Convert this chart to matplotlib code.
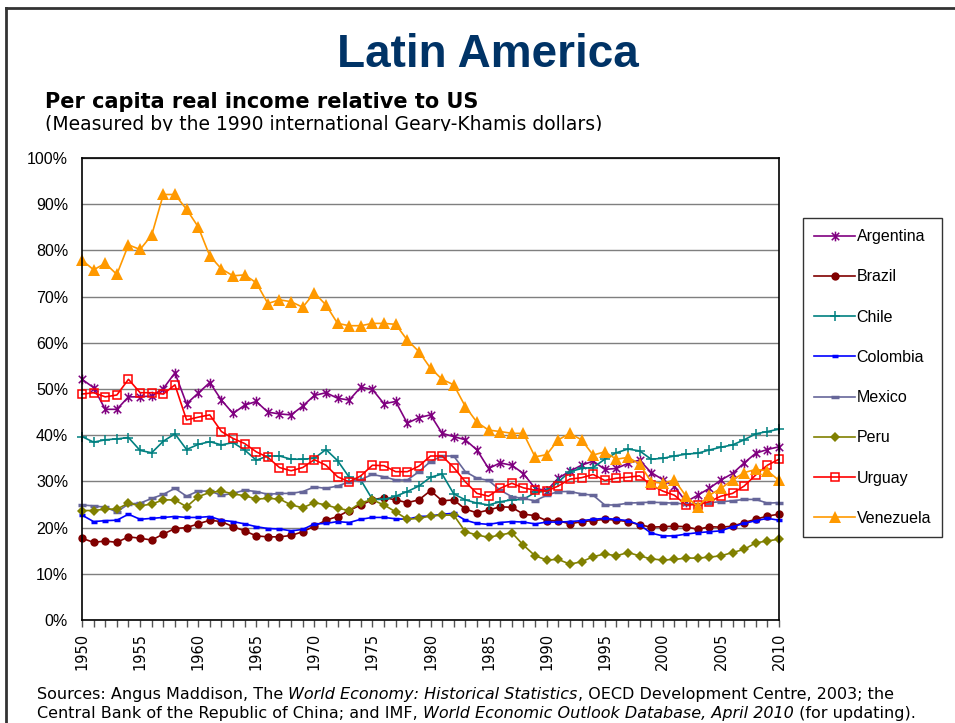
import numpy as np
import matplotlib
matplotlib.use("Agg")
import matplotlib.pyplot as plt
from matplotlib.path import Path
from matplotlib.lines import Line2D
from matplotlib.transforms import Bbox
from matplotlib.ticker import MultipleLocator, FuncFormatter

# Years on the category axis
years = list(range(1950, 2011))

# Per capita real income relative to US (%)
argentina = [52.1, 50.3, 45.6, 45.6, 48.3, 48.3, 48.5, 50.1, 53.5, 46.8,
             49.1, 51.4, 47.6, 44.7, 46.5, 47.3, 45.0, 44.6, 44.4, 46.3,
             48.6, 49.2, 48.0, 47.6, 50.4, 49.9, 46.8, 47.3, 42.6, 43.8,
             44.4, 40.4, 39.7, 39.0, 36.8, 32.8, 34.0, 33.5, 31.7, 28.5,
             28.0, 30.7, 32.2, 33.5, 34.4, 32.6, 32.8, 33.9, 34.6, 31.9,
             30.4, 28.9, 25.6, 27.0, 28.5, 30.3, 31.7, 34.0, 36.1, 36.9, 37.5]
brazil = [17.7, 16.8, 17.1, 16.8, 18.0, 17.7, 17.3, 18.6, 19.8, 20.0,
          20.8, 21.6, 21.3, 20.2, 19.3, 18.2, 18.0, 18.0, 18.3, 19.1,
          20.3, 21.6, 22.4, 23.7, 24.9, 26.0, 26.5, 26.0, 25.4, 26.0,
          28.0, 25.8, 26.0, 24.0, 23.2, 23.8, 24.5, 24.4, 22.9, 22.6,
          21.5, 21.5, 20.8, 21.3, 21.5, 21.8, 21.6, 21.3, 20.6, 20.1,
          20.2, 20.3, 20.2, 19.6, 20.2, 20.1, 20.3, 21.1, 21.8, 22.5, 22.9]
chile = [39.7, 38.5, 39.0, 39.2, 39.5, 36.7, 36.2, 38.7, 40.3, 36.9,
         38.0, 38.6, 37.9, 38.4, 36.8, 34.6, 35.5, 35.5, 34.8, 34.8,
         35.0, 36.9, 34.5, 30.9, 30.3, 26.1, 26.1, 26.8, 27.8, 29.0,
         30.9, 31.6, 27.3, 26.0, 25.3, 24.9, 25.6, 26.0, 26.1, 27.6,
         27.9, 29.9, 32.1, 32.8, 33.0, 34.8, 36.2, 37.0, 36.6, 34.8,
         35.0, 35.5, 35.9, 36.1, 36.8, 37.4, 37.9, 39.0, 40.3, 40.8, 41.3]
colombia = [22.7, 21.3, 21.5, 21.6, 22.9, 21.8, 22.0, 22.2, 22.4, 22.2,
            22.2, 22.4, 21.6, 21.3, 20.8, 20.2, 19.8, 19.7, 19.3, 19.6,
            20.8, 20.9, 21.3, 21.1, 21.8, 22.2, 22.2, 21.9, 21.8, 22.4,
            22.5, 22.9, 23.1, 21.6, 20.9, 20.7, 21.1, 21.3, 21.2, 20.8,
            21.2, 21.2, 21.3, 21.5, 21.8, 22.0, 21.8, 21.5, 20.6, 18.8,
            18.2, 18.2, 18.6, 18.9, 19.1, 19.3, 20.2, 20.9, 21.5, 22.0, 21.6]
mexico = [24.9, 24.7, 24.4, 23.4, 25.1, 25.3, 26.3, 27.2, 28.5, 26.8,
          27.9, 27.9, 27.0, 27.4, 28.1, 27.8, 27.2, 27.4, 27.4, 27.8,
          28.8, 28.5, 29.0, 29.9, 30.4, 31.5, 31.0, 30.3, 30.3, 32.1,
          34.3, 35.5, 35.5, 32.1, 30.7, 30.2, 28.1, 26.7, 26.3, 25.8,
          27.0, 27.8, 27.8, 27.3, 27.0, 24.9, 24.9, 25.3, 25.4, 25.5,
          25.4, 25.3, 25.1, 25.1, 25.4, 25.6, 25.8, 26.1, 26.1, 25.3, 25.4]
peru = [23.7, 23.7, 24.0, 24.0, 25.3, 24.7, 25.1, 26.0, 26.0, 24.5,
        26.7, 27.6, 27.9, 27.3, 26.9, 26.2, 26.3, 26.2, 24.9, 24.3,
        25.4, 24.9, 24.2, 23.7, 25.4, 26.0, 24.9, 23.4, 21.8, 22.0,
        22.5, 22.7, 22.7, 19.1, 18.4, 17.9, 18.4, 18.9, 16.2, 13.9,
        13.0, 13.1, 12.1, 12.6, 13.7, 14.3, 13.9, 14.6, 13.9, 13.2,
        13.0, 13.1, 13.4, 13.4, 13.6, 13.9, 14.6, 15.3, 16.7, 17.1, 17.5]
uruguay = [48.9, 49.2, 48.3, 48.7, 52.1, 49.2, 49.2, 48.9, 50.9, 43.3,
           43.9, 44.4, 40.8, 39.3, 38.2, 36.4, 35.2, 33.0, 32.3, 33.0,
           34.7, 33.5, 31.0, 29.9, 31.2, 33.5, 33.4, 32.1, 32.1, 33.3,
           35.5, 35.5, 33.0, 29.9, 27.4, 26.8, 28.5, 29.6, 28.6, 28.1,
           27.9, 29.0, 30.5, 30.8, 31.5, 30.2, 30.7, 30.9, 31.2, 29.2,
           27.9, 27.0, 24.9, 25.0, 25.6, 26.8, 27.4, 29.0, 31.4, 33.5, 34.8]
venezuela = [77.9, 75.8, 77.2, 74.8, 81.2, 80.2, 83.3, 92.1, 92.1, 88.9,
             85.1, 78.8, 76.0, 74.5, 74.7, 73.0, 68.5, 69.3, 68.9, 67.7,
             70.8, 68.2, 64.2, 63.7, 63.7, 64.2, 64.2, 64.0, 60.6, 58.1,
             54.5, 52.1, 50.9, 46.2, 42.8, 41.1, 40.8, 40.4, 40.4, 35.3,
             35.8, 39.0, 40.4, 39.0, 35.7, 36.4, 34.8, 35.2, 33.8, 29.9,
             29.6, 30.3, 26.8, 24.5, 27.0, 28.5, 30.3, 31.9, 32.6, 32.3, 30.2]

labels = ["Argentina", "Brazil", "Chile", "Colombia", "Mexico", "Peru", "Urguay", "Venezuela"]
series = [argentina, brazil, chile, colombia, mexico, peru, uruguay, venezuela]

# Excel-like star marker: an x with a vertical bar through it
star = Path([(-1, -1), (1, 1), (-1, 1), (1, -1), (0, -1.3), (0, 1.3)],
            [Path.MOVETO, Path.LINETO, Path.MOVETO, Path.LINETO, Path.MOVETO, Path.LINETO])

styles = [
    dict(color="#800080", marker=star, ms=7, mfc="none", mew=1.1),
    dict(color="#800000", marker="o", ms=6, mew=0),
    dict(color="#008080", marker="+", ms=7.5, mew=1.1),
    dict(color="#0000FF", marker="_", ms=4, mew=2.5),
    dict(color="#666699", marker="_", ms=6, mew=2.5),
    dict(color="#808000", marker="D", ms=5.2, mew=0),
    dict(color="#FF0000", marker="s", ms=5.5, mfc="none", mew=1.1),
    dict(color="#FF9900", marker="^", ms=8, mew=0),
]

fig = plt.figure(figsize=(9.55, 7.23), dpi=100)
ax = fig.add_axes([82 / 955, 1 - 620 / 723, 697 / 955, 462 / 723])

for vals, lab, st in zip(series, labels, styles):
    ax.plot(years, vals, lw=1.2, label=lab, clip_on=False, **st)

ax.set_xlim(1950, 2010)
ax.set_ylim(0, 100)
ax.yaxis.set_major_locator(MultipleLocator(10))
ax.yaxis.set_major_formatter(FuncFormatter(lambda v, p: f"{v:.0f}%"))
ax.grid(axis="y", color="#7f7f7f", lw=1)
ax.set_axisbelow(True)
ax.tick_params(axis="y", length=0, pad=10, labelsize=11.5, labelfontfamily="Liberation Sans")
ax.xaxis.set_major_locator(MultipleLocator(5))
ax.xaxis.set_minor_locator(MultipleLocator(1))
ax.tick_params(axis="x", which="both", direction="out", length=5, width=1, color="#555555")
ax.tick_params(axis="x", which="major", labelsize=10.5, labelrotation=90, pad=4)
for s in ax.spines.values():
    s.set_color("black")
    s.set_linewidth(1.2)

leg = ax.legend(loc="upper left", bbox_to_anchor=(803 / 955, 1 - 218 / 723),
                bbox_transform=fig.transFigure, frameon=True, fancybox=False,
                edgecolor="black", labelspacing=1.58, handlelength=2.55,
                handletextpad=0.1, borderpad=0.7, borderaxespad=0,
                prop={"family": "Liberation Sans", "size": 11.5})
leg.get_frame().set_linewidth(1)

# Headings
fig.text(488 / 955, 1 - 67 / 723, "Latin America", ha="center", va="baseline",
         fontsize=33, fontweight="bold", color="#003366",
         family=["Liberation Sans Narrow", "Liberation Sans"])
fig.text(45 / 955, 1 - 108 / 723, "Per capita real income relative to US", ha="left", va="baseline",
         fontsize=15, fontweight="bold", family="DejaVu Sans")
sub = fig.text(45 / 955, 1 - 130 / 723, "(Measured by the 1990 international Geary-Khamis dollars)",
               ha="left", va="baseline", fontsize=13.5, family="DejaVu Sans")
# the source slide cuts this line off just under the baseline
sub.set_clip_box(Bbox.from_extents(0, 723 - 131, 955, 723))
sub.set_clip_on(True)

# Footnote with italic book titles, pieces chained one after another
line1 = [("Sources: Angus Maddison, The ", "normal"), ("World Economy: Historical Statistics", "italic"),
         (", OECD Development Centre, 2003; the", "normal")]
line2 = [("Central Bank of the Republic of China; and IMF, ", "normal"),
         ("World Economic Outlook Database, April 2010", "italic"), (" (for updating).", "normal")]
for y, parts in [(1 - 699 / 723, line1), (1 - 718 / 723, line2)]:
    prev = None
    for txt, style in parts:
        if prev is None:
            prev = fig.text(37 / 955, y, txt, ha="left", va="baseline", fontsize=11.5,
                            style=style, family="DejaVu Sans")
        else:
            prev = ax.annotate(txt, xy=(1, 0), xycoords=prev, ha="left", va="bottom", fontsize=11.5,
                               style=style, family="DejaVu Sans", annotation_clip=False)

# Slide frame
fig.add_artist(Line2D([6, 6], [0, 715], transform=None, color="#333333", lw=2))
fig.add_artist(Line2D([6, 955], [715, 715], transform=None, color="#333333", lw=2))

fig.savefig("out.png", dpi=100)
